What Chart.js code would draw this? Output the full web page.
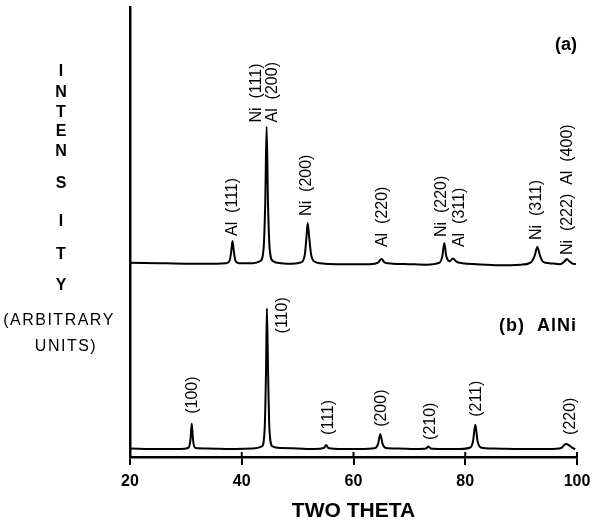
<!DOCTYPE html>
<html>
<head>
<meta charset="utf-8">
<script src="https://cdn.jsdelivr.net/npm/chart.js@4.4.1/dist/chart.umd.min.js"></script>
<style>
  html, body { margin: 0; padding: 0; background: #fff; }
  #wrap { width: 595px; height: 522px; position: relative; }
</style>
</head>
<body>
<div id="wrap"><canvas id="c" width="595" height="522"></canvas></div>
<script>
// ---- Data (arbitrary intensity units above each trace's baseline) ----
const twoThetaA = [20, 25, 30, 34, 37.2, 37.8, 38.1, 38.35, 38.6, 38.9, 39.5, 42, 43.3, 43.9, 44.2, 44.45, 44.7, 45.0, 45.6, 47, 49, 50.7, 51.3, 51.6, 51.8, 52.05, 52.4, 52.9, 54, 57, 60, 63, 64.4, 65, 65.6, 67, 70, 73, 75.4, 75.9, 76.25, 76.6, 77.2, 77.8, 78.4, 79.5, 82, 86, 90, 91.8, 92.4, 92.9, 93.4, 94, 95, 97, 97.8, 98.2, 98.6, 99.2, 99.8];
const intensityA = [1.5, 1, 0.5, 0.5, 1, 3, 12, 23, 12, 3, 1, 1, 3, 15, 60, 137, 60, 15, 3, 1, 0.5, 2, 10, 28, 41, 28, 10, 3, 1, 0, 0, 0, 1.5, 5, 1.5, 0.5, 0, -0.5, 1.5, 8, 21, 8, 3, 5.5, 2.5, 1, 0, -1, -0.5, 2, 8, 17, 8, 2, 1, 0, 3, 5, 3, 0.5, 0];

const twoThetaB = [20, 25, 29, 30.4, 30.8, 31.05, 31.3, 31.7, 34, 38, 42, 43.6, 44.1, 44.35, 44.5, 44.7, 44.95, 45.5, 47, 50, 53, 54.7, 55.1, 55.5, 58, 61, 63.9, 64.4, 64.8, 65.2, 65.8, 68, 71, 73, 73.4, 73.8, 76, 79, 80.9, 81.4, 81.8, 82.2, 82.8, 85, 90, 95, 97.2, 97.7, 98.1, 98.6, 99.2, 99.7];
const intensityB = [0.5, 0, 0, 1, 8, 25, 8, 1, 0.5, 0, 0.5, 2.5, 20, 80, 140, 80, 20, 2.5, 1, 0.5, 0, 1, 4, 1, 0, 0, 1, 5, 15, 5, 1, 0.5, 0, 0.5, 2.5, 0.5, 0, 0, 1.5, 8, 24, 8, 1.5, 0.5, 0, 0, 1, 4, 5, 3.5, 1, 0];

const offsetA = 192;   // trace (a) is stacked above trace (b)
const offsetB = 8;

const xTicks = [20, 40, 60, 80, 100];

const labelTextA  = ['Al  (111)', 'Ni  (111)', 'Al  (200)', 'Ni  (200)', 'Al  (220)', 'Ni  (220)', 'Al  (311)', 'Ni  (311)', 'Ni  (222)  Al  (400)'];
const labelThetaA = [38.4, 42.7, 45.6, 51.6, 65.2, 75.7, 78.9, 92.8, 98.4];
const labelLevelA = [28, 141, 141, 48, 17, 27, 17, 24, 9];

const labelTextB  = ['(100)', '(110)', '(111)', '(200)', '(210)', '(211)', '(220)'];
const labelThetaB = [31.25, 47.3, 55.5, 65.0, 73.75, 82.1, 98.9];
const labelLevelB = [35, 115, 14, 22, 9, 32, 14];

const yTitleLetters = ['I', 'N', 'T', 'E', 'N', 'S', 'I', 'T', 'Y'];
const yTitleLetterY = [72, 93, 113, 132, 152, 184, 222, 255, 286];

// ---- Build datasets ----
function pts(xs, ys, off) { return xs.map((x, i) => ({ x: x, y: ys[i] + off })); }

const annotPlugin = {
  id: 'annot',
  afterDraw(chart) {
    const ctx = chart.ctx;
    const xs = chart.scales.x, ys = chart.scales.y;
    ctx.save();
    ctx.fillStyle = '#000';
    ctx.strokeStyle = '#000';
    // upper halves of x tick marks
    ctx.lineWidth = 2;
    const axisY = ys.getPixelForValue(0);
    [40, 60, 80, 100].forEach(v => {
      const px = xs.getPixelForValue(v);
      ctx.beginPath(); ctx.moveTo(px, axisY - 5); ctx.lineTo(px, axisY); ctx.stroke();
    });
    // peak labels
    ctx.font = '16px "Liberation Sans", Arial, sans-serif';
    ctx.textAlign = 'left';
    ctx.textBaseline = 'middle';
    const drawLabels = (texts, thetas, levels, off) => {
      texts.forEach((t, i) => {
        const px = xs.getPixelForValue(thetas[i]);
        const py = ys.getPixelForValue(levels[i] + off);
        ctx.save();
        ctx.translate(px, py);
        ctx.rotate(-Math.PI / 2);
        ctx.fillText(t, 0, 0);
        ctx.restore();
      });
    };
    drawLabels(labelTextA, labelThetaA, labelLevelA, offsetA);
    drawLabels(labelTextB, labelThetaB, labelLevelB, offsetB);

    // panel labels
    ctx.font = 'bold 18px "Liberation Sans", Arial, sans-serif';
    ctx.textAlign = 'right';
    ctx.fillText('(a)', 577, 45);
    ctx.letterSpacing = '1px';
    ctx.fillText('(b)  AlNi', 577, 326);
    ctx.letterSpacing = '0px';

    // y-axis title
    ctx.textAlign = 'center';
    ctx.font = 'bold 16px "Liberation Sans", Arial, sans-serif';
    yTitleLetters.forEach((l, i) => ctx.fillText(l, 61, yTitleLetterY[i]));
    ctx.font = '16px "Liberation Sans", Arial, sans-serif';
    ctx.letterSpacing = '1.5px';
    ctx.fillText('(ARBITRARY', 59, 321);
    ctx.fillText('UNITS)', 66, 347);
    ctx.restore();
  }
};

new Chart(document.getElementById('c'), {
  type: 'scatter',
  data: {
    datasets: [
      { data: pts(twoThetaA, intensityA, offsetA), showLine: true, borderColor: '#000', borderWidth: 2, pointRadius: 0, cubicInterpolationMode: 'monotone' },
      { data: pts(twoThetaB, intensityB, offsetB), showLine: true, borderColor: '#000', borderWidth: 2, pointRadius: 0, cubicInterpolationMode: 'monotone' }
    ]
  },
  options: {
    responsive: false,
    animation: false,
    devicePixelRatio: 1,
    layout: { padding: { left: 130, right: 18, top: 7, bottom: 0 } },
    plugins: { legend: { display: false }, tooltip: { enabled: false } },
    scales: {
      x: {
        type: 'linear', min: 20, max: 100,
        afterBuildTicks: (s) => { s.ticks = xTicks.map(v => ({ value: v })); },
        afterFit: (s) => { s.paddingRight = 0; s.paddingLeft = 0; },
        ticks: { color: '#000', padding: 9, font: { family: '"Liberation Sans", Arial, sans-serif', size: 16, weight: 'bold', lineHeight: 1 } },
        grid: { drawOnChartArea: false, drawTicks: true, tickLength: 8, color: '#000', lineWidth: 2 },
        border: { display: true, color: '#000', width: 2.5 },
        title: { display: true, text: 'TWO THETA', color: '#000', font: { family: '"Liberation Sans", Arial, sans-serif', size: 21, weight: 'bold', lineHeight: 1 }, padding: { top: 2, bottom: 0 } }
      },
      y: {
        min: 0, max: 448,
        ticks: { display: false },
        grid: { display: false, drawTicks: false },
        border: { display: true, color: '#000', width: 2.5 }
      }
    }
  },
  plugins: [annotPlugin]
});
</script>
</body>
</html>
